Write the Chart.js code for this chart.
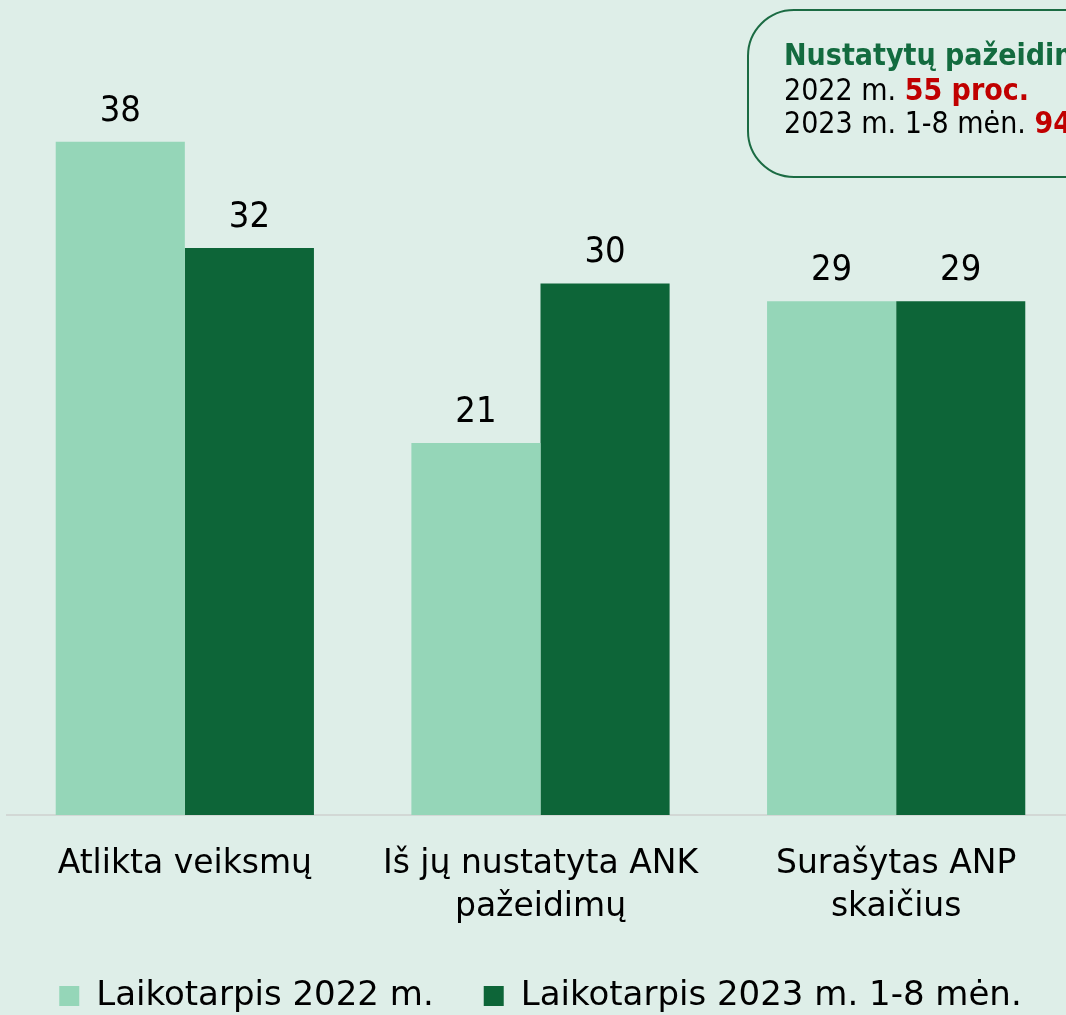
<!DOCTYPE html>
<html lang="lt">
<head>
<meta charset="utf-8">
<title>Atlikta veiksmų</title>
<script src="https://cdn.jsdelivr.net/npm/chart.js@4.4.0/dist/chart.umd.min.js"></script>
<style>
  html, body {
    margin: 0;
    padding: 0;
    overflow: hidden;
    background: #deeee8;
  }
  #chartWrap {
    position: relative;
    width: 1074px;
    height: 1015px;
  }
</style>
</head>
<body>
<div id="chartWrap"><canvas id="inspectionChart"></canvas></div>

<script>
/*******************************************************************
 *                          CHART DATA
 *******************************************************************/

const categories = [
  ["Atlikta veiksmų"],
  ["Iš jų nustatyta ANK", "pažeidimų"],
  ["Surašytas ANP", "skaičius"],
];

const seriesLabels = ["Laikotarpis 2022 m.", "Laikotarpis 2023 m. 1-8 mėn."];
const values2022 = [38, 21, 29];
const values2023 = [32, 30, 29];

const noteTitle = "Nustatytų pažeidimų dalis";
const noteRows = [
  ["2022 m. ", "55 proc."],
  ["2023 m. 1-8 mėn. ", "94 proc."],
];

const lightGreen = "#95d6b8";
const darkGreen = "#0d6538";
const fontMain = "'DejaVu Sans', sans-serif";
const fontNarrow = "'DejaVu Sans Condensed', 'DejaVu Sans', sans-serif";

/*******************************************************************
 *                          PLUGINS
 *******************************************************************/

// numbers above each bar
const valueLabels = {
  id: "valueLabels",
  afterDatasetsDraw(chart) {
    const ctx = chart.ctx;
    ctx.save();
    ctx.font = "36px " + fontNarrow;
    ctx.fillStyle = "#000";
    ctx.textAlign = "center";
    ctx.textBaseline = "alphabetic";
    chart.data.datasets.forEach((ds, i) => {
      chart.getDatasetMeta(i).data.forEach((bar, j) => {
        ctx.fillText(String(ds.data[j]), bar.x, bar.y - 21);
      });
    });
    ctx.restore();
  },
};

// rounded note box in the top right corner (runs off the edge)
const noteBox = {
  id: "noteBox",
  afterDraw(chart) {
    const ctx = chart.ctx;
    ctx.save();
    ctx.beginPath();
    ctx.roundRect(748, 10, 600, 167, 46);
    ctx.lineWidth = 2;
    ctx.strokeStyle = "#1b6b43";
    ctx.stroke();

    const x = 784;
    ctx.textAlign = "left";
    ctx.textBaseline = "alphabetic";
    ctx.font = "bold 30px " + fontNarrow;
    ctx.fillStyle = "#136b3f";
    ctx.fillText(noteTitle, x, 65);

    noteRows.forEach((row, i) => {
      const y = 100 + i * 33;
      ctx.font = "30px " + fontNarrow;
      ctx.fillStyle = "#000";
      ctx.fillText(row[0], x, y);
      const w = ctx.measureText(row[0]).width;
      ctx.font = "bold 30px " + fontNarrow;
      ctx.fillStyle = "#c00000";
      ctx.fillText(row[1], x + w, y);
    });
    ctx.restore();
  },
};

/*******************************************************************
 *                          RENDER
 *******************************************************************/

const chartConfig = {
  type: "bar",
  data: {
    labels: categories,
    datasets: [
      {
        label: seriesLabels[0],
        data: values2022,
        backgroundColor: lightGreen,
        categoryPercentage: 0.726,
        barPercentage: 1.0,
      },
      {
        label: seriesLabels[1],
        data: values2023,
        backgroundColor: darkGreen,
        categoryPercentage: 0.726,
        barPercentage: 1.0,
      },
    ],
  },
  options: {
    responsive: true,
    maintainAspectRatio: false,
    animation: false,
    layout: {
      padding: { left: 7, right: 0, top: 0, bottom: -8 },
    },
    scales: {
      x: {
        grid: { display: false, drawTicks: false },
        border: { display: true, color: "#d2d8d5", width: 2 },
        ticks: {
          color: "#000",
          font: { family: fontMain, size: 33, lineHeight: 1.3 },
          padding: 28,
          autoSkip: false,
          maxRotation: 0,
        },
        afterFit(scale) {
          scale.height = 114;
        },
      },
      y: {
        display: false,
        min: 0,
        max: 46,
      },
    },
    plugins: {
      legend: {
        position: "bottom",
        labels: {
          color: "#000",
          boxWidth: 20,
          boxHeight: 20,
          padding: 50,
          font: { family: fontMain, size: 34, lineHeight: 1.0 },
        },
      },
      tooltip: { enabled: false },
    },
  },
  plugins: [valueLabels, noteBox],
};

new Chart(document.getElementById("inspectionChart"), chartConfig);
</script>
</body>
</html>
